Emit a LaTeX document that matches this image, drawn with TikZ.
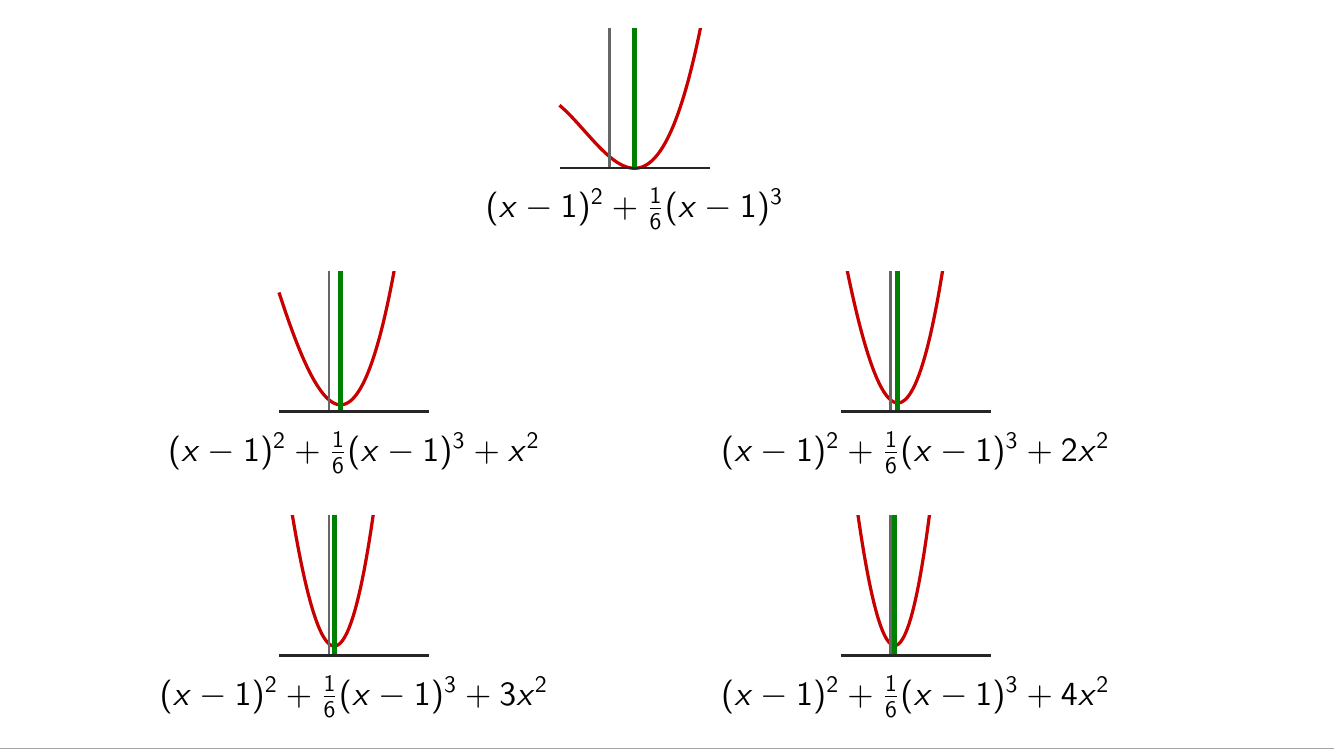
\documentclass[tikz,border=0pt]{standalone}
\DeclareFontFamily{OT1}{sfmath}{}
\DeclareFontShape{OT1}{sfmath}{m}{n}{<-> cmss10}{}
\DeclareFontShape{OT1}{sfmath}{m}{sl}{<-> cmssi10}{}
\DeclareSymbolFont{operators}{OT1}{sfmath}{m}{n}
\DeclareSymbolFont{sfletters}{OT1}{sfmath}{m}{sl}
\DeclareMathSymbol{x}{\mathalpha}{sfletters}{`x}
\definecolor{curvered}{RGB}{200,0,0}
\definecolor{mingreen}{RGB}{0,128,0}
\tikzset{every picture/.style={line width=0.75pt}}
\tikzset{
  axisline/.style={black!85, line width=0.7pt},
  yaxisline/.style={black!60, line width=0.75pt},
  minline/.style={mingreen, line width=1.6pt},
  curveline/.style={curvered, line width=1.1pt, domain=-2:4, samples=120, smooth},
  plotlabel/.style={anchor=base, inner sep=0pt, font=\fontsize{11.5}{14}\selectfont},
}

\begin{document}
\begin{tikzpicture}[x=0.34pt,y=0.34pt,yscale=-1,xscale=1]
	\useasboundingbox (0,0) rectangle (1334,750);
	
	%Plot: (x-1)^2+(x-1)^3/6
	\begin{scope}[shift={(609.5,168.3)}, xscale=25, yscale=-14]
		\begin{scope}
			\clip (-3,-1) rectangle (5,10);
			\draw [curveline] plot (\x, {(\x-1)*(\x-1)+(\x-1)*(\x-1)*(\x-1)/6});
		\end{scope}
		\draw [yaxisline] (0,0) -- (0,10);
		\draw [minline] (1,0) -- (1,10);
		\draw [axisline] (-2,0) -- (4,0);
		\node [plotlabel] (lblbase) at (1,-3.5) {$(x-1)^2+\frac{1}{6}(x-1)^3$};
	\end{scope}
	
	%Plot: +x^2
	\begin{scope}[shift={(329,411.5)}, xscale=25, yscale=-14]
		\begin{scope}
			\clip (-3,-1) rectangle (5,10);
			\draw [curveline] plot (\x, {(\x-1)*(\x-1)+(\x-1)*(\x-1)*(\x-1)/6+\x*\x});
		\end{scope}
		\draw [yaxisline] (0,0) -- (0,10);
		\draw [minline] (0.4641,0) -- (0.4641,10);
		\draw [axisline] (-2,0) -- (4,0);
		\node [plotlabel] (lblone) at (1,-3.55) {$(x-1)^2+\frac{1}{6}(x-1)^3+x^2$};
	\end{scope}
	
	%Plot: +2x^2
	\begin{scope}[shift={(890.5,411.5)}, xscale=25, yscale=-14]
		\begin{scope}
			\clip (-3,-1) rectangle (5,10);
			\draw [curveline] plot (\x, {(\x-1)*(\x-1)+(\x-1)*(\x-1)*(\x-1)/6+2*\x*\x});
		\end{scope}
		\draw [yaxisline] (0,0) -- (0,10);
		\draw [minline] (0.2915,0) -- (0.2915,10);
		\draw [axisline] (-2,0) -- (4,0);
		\node [plotlabel] (lbltwo) at (1,-3.55) {$(x-1)^2+\frac{1}{6}(x-1)^3+2x^2$};
	\end{scope}
	
	%Plot: +3x^2
	\begin{scope}[shift={(329,655.5)}, xscale=25, yscale=-14]
		\begin{scope}
			\clip (-3,-1) rectangle (5,10);
			\draw [curveline] plot (\x, {(\x-1)*(\x-1)+(\x-1)*(\x-1)*(\x-1)/6+3*\x*\x});
		\end{scope}
		\draw [yaxisline] (0,0) -- (0,10);
		\draw [minline] (0.2111,0) -- (0.2111,10);
		\draw [axisline] (-2,0) -- (4,0);
		\node [plotlabel] (lblthree) at (1,-3.55) {$(x-1)^2+\frac{1}{6}(x-1)^3+3x^2$};
	\end{scope}
	
	%Plot: +4x^2
	\begin{scope}[shift={(890.5,655.5)}, xscale=25, yscale=-14]
		\begin{scope}
			\clip (-3,-1) rectangle (5,10);
			\draw [curveline] plot (\x, {(\x-1)*(\x-1)+(\x-1)*(\x-1)*(\x-1)/6+4*\x*\x});
		\end{scope}
		\draw [yaxisline] (0,0) -- (0,10);
		\draw [minline] (0.1652,0) -- (0.1652,10);
		\draw [axisline] (-2,0) -- (4,0);
		\node [plotlabel] (lblfour) at (1,-3.55) {$(x-1)^2+\frac{1}{6}(x-1)^3+4x^2$};
	\end{scope}
	
	%Straight Lines: bottom rule
	\draw [black!35, line width=0.6pt] (0,748.5) -- (1334,748.5);
	
\end{tikzpicture}
\end{document}
